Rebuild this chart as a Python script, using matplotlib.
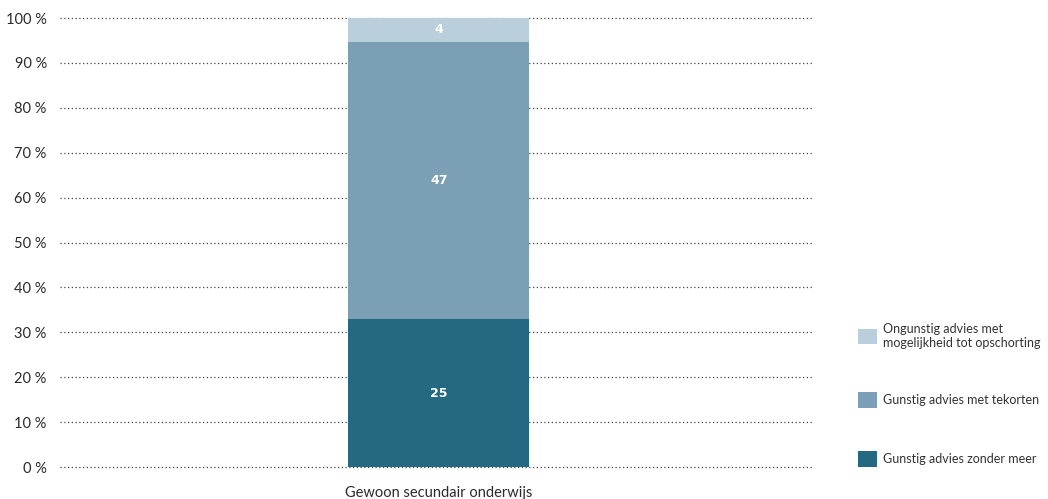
import matplotlib

matplotlib.use("Agg")
import matplotlib.pyplot as plt
from matplotlib.patches import Patch
import numpy as np

plt.rcParams["font.family"] = ["Lato", "DejaVu Sans"]

# data
category = "Gewoon secundair onderwijs"
series = ["Gunstig advies zonder meer",
          "Gunstig advies met tekorten",
          "Ongunstig advies met\nmogelijkheid tot opschorting"]
counts = np.array([25, 47, 4])
colors = ["#246882", "#7ba0b5", "#b9cfdc"]
yticks = np.arange(0, 101, 10)

pct = counts / counts.sum() * 100

fig = plt.figure(figsize=(10.48, 4.99), dpi=100)
ax = fig.add_axes([0.0573, 0.0641, 0.7177, 0.8997])

bottom = 0
for val, n, col in zip(pct, counts, colors):
    bars = ax.bar(0, val, bottom=bottom, width=0.481, color=col, zorder=3)
    ax.bar_label(bars, labels=[str(n)], label_type="center", color="white",
                 fontweight="bold", fontsize=9, family="DejaVu Sans")
    bottom += val

ax.set_xlim(-1.007, 0.993)
ax.set_ylim(0, 100)
ax.set_yticks(yticks)
ax.set_yticklabels([f"{t} %" for t in yticks], fontsize=10.5, color="#2b2b2b")
ax.set_xticks([0])
ax.set_xticklabels([category], fontsize=10.5, color="#2b2b2b")
ax.tick_params(axis="both", length=0)
ax.tick_params(axis="y", pad=9.5)
ax.tick_params(axis="x", pad=14)
for s in ax.spines.values():
    s.set_visible(False)
ax.yaxis.grid(True, linestyle=(0, (1, 2)), color="#444444", linewidth=0.9, zorder=0)
for gl in ax.get_ygridlines():
    gl.set_clip_on(False)
ax.set_axisbelow(True)

handles = [Patch(facecolor=c, label=l) for c, l in zip(colors, series)][::-1]
fig.legend(handles=handles, loc="upper left", bbox_to_anchor=(0.808, 0.376),
           frameon=False, fontsize=9, handlelength=1.5, handleheight=1.5,
           handletextpad=0.5, labelspacing=3.5, labelcolor="#333333")

fig.savefig("out.png", dpi=100)
